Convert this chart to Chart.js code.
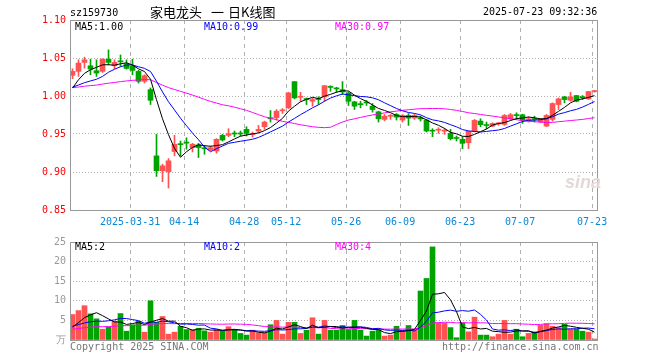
<!DOCTYPE html>
<html>
<head>
<meta charset="utf-8">
<script src="https://cdn.jsdelivr.net/npm/chart.js@4.4.1/dist/chart.umd.min.js"></script>
<style>
  body { margin: 0; background: #fff; }
  #wrap { position: relative; width: 660px; height: 360px; overflow: hidden; font: 10px "DejaVu Sans Mono", monospace; }
  #wrap canvas { position: absolute; left: 0; }
  .t { position: absolute; line-height: 12px; white-space: pre; }
  .cjk { font: 13px "Noto Sans CJK SC"; line-height: 18px; top: 3px; }
</style>
</head>
<body>
<div id="wrap">
  <canvas id="kChart" width="660" height="232" style="top:0"></canvas>
  <canvas id="volChart" width="660" height="128" style="top:232px"></canvas>
  <div class="t" style="left:70px;top:7px">sz159730</div>
  <div class="t cjk" style="left:150px">家电龙头</div>
  <div class="t cjk" style="left:211px">一</div>
  <div class="t cjk" style="left:228px">日K线图</div>
  <div class="t" style="left:483px;top:6px">2025-07-23 09:32:36</div>
  <div class="t" id="lg0" style="left:75px;top:21px;color:#000"></div>
  <div class="t" id="lg1" style="left:204px;top:21px;color:#0000ff"></div>
  <div class="t" id="lg2" style="left:335px;top:21px;color:#ff00ff"></div>
  <div class="t" id="vl0" style="left:75px;top:241px;color:#000"></div>
  <div class="t" id="vl1" style="left:204px;top:241px;color:#0000ff"></div>
  <div class="t" id="vl2" style="left:335px;top:241px;color:#ff00ff"></div>
  <div class="t" style="left:565px;top:171px;font:italic bold 18px 'Liberation Sans';line-height:22px;color:#e4d8d8">sina</div>
  <div class="t" style="left:70px;top:341px;color:#777">Copyright 2025 SINA.COM</div>
  <div class="t" style="left:442px;top:341px;color:#777">http://finance.sina.com.cn</div>
</div>
<script>
// daily candles, 2025-03-17 .. 2025-07-23 (88 trading days)
const opens = [
  1.0272, 1.0324, 1.0442, 1.0398, 1.0333, 1.0324, 1.0485, 1.0398, 1.0455, 1.0424,
  1.0390, 1.0324, 1.0193, 1.0084, 0.9212, 0.9016, 0.9003, 0.9269, 0.9365, 0.9387,
  0.9321, 0.9356, 0.9308, 0.9291, 0.9277, 0.9482, 0.9482, 0.9508, 0.9508, 0.9561,
  0.9491, 0.9539, 0.9596, 0.9704, 0.9713, 0.9805, 0.9844, 1.0189, 0.9984, 0.9957,
  0.9931, 0.9957, 0.9988, 1.0118, 1.0097, 1.0084, 1.0040, 0.9923, 0.9890, 0.9912,
  0.9866, 0.9792, 0.9692, 0.9733, 0.9757, 0.9683, 0.9744, 0.9709, 0.9702, 0.9683,
  0.9541, 0.9550, 0.9537, 0.9508, 0.9445, 0.9430, 0.9386, 0.9535, 0.9670, 0.9615,
  0.9604, 0.9633, 0.9626, 0.9700, 0.9746, 0.9753, 0.9674, 0.9694, 0.9661, 0.9604,
  0.9692, 0.9888, 0.9988, 0.9944, 1.0006, 0.9982, 0.9962, 1.0058,
];
const highs = [
  1.0358, 1.0476, 1.0511, 1.0485, 1.0476, 1.0490, 1.0607, 1.0476, 1.0540, 1.0476,
  1.0485, 1.0337, 1.0280, 1.0106, 0.9495, 0.9103, 0.9177, 0.9482, 0.9408, 0.9450,
  0.9378, 0.9378, 0.9350, 0.9343, 0.9439, 0.9495, 0.9570, 0.9539, 0.9539, 0.9596,
  0.9526, 0.9613, 0.9670, 0.9809, 0.9822, 0.9835, 1.0049, 1.0189, 1.0049, 0.9975,
  0.9975, 0.9990, 1.0136, 1.0136, 1.0115, 1.0189, 1.0053, 0.9931, 0.9931, 0.9941,
  0.9901, 0.9800, 0.9757, 0.9757, 0.9770, 0.9757, 0.9770, 0.9761, 0.9735, 0.9692,
  0.9570, 0.9583, 0.9570, 0.9561, 0.9474, 0.9465, 0.9539, 0.9692, 0.9700, 0.9657,
  0.9648, 0.9652, 0.9757, 0.9770, 0.9779, 0.9761, 0.9726, 0.9735, 0.9700, 0.9757,
  0.9910, 0.9975, 0.9997, 1.0049, 1.0006, 1.0006, 1.0062, 1.0075,
];
const lows = [
  1.0228, 1.0258, 1.0367, 1.0280, 1.0258, 1.0310, 1.0410, 1.0360, 1.0390, 1.0354,
  1.0280, 1.0170, 1.0170, 0.9888, 0.8942, 0.8872, 0.8789, 0.9212, 0.9212, 0.9300,
  0.9264, 0.9190, 0.9234, 0.9280, 0.9247, 0.9408, 0.9465, 0.9465, 0.9474, 0.9474,
  0.9460, 0.9517, 0.9561, 0.9657, 0.9683, 0.9770, 0.9835, 0.9962, 0.9931, 0.9888,
  0.9866, 0.9888, 0.9931, 1.0062, 1.0049, 1.0020, 0.9875, 0.9822, 0.9844, 0.9875,
  0.9788, 0.9657, 0.9674, 0.9692, 0.9683, 0.9657, 0.9613, 0.9692, 0.9670, 0.9526,
  0.9465, 0.9508, 0.9495, 0.9421, 0.9408, 0.9308, 0.9308, 0.9526, 0.9596, 0.9570,
  0.9596, 0.9613, 0.9613, 0.9683, 0.9692, 0.9639, 0.9657, 0.9657, 0.9648, 0.9596,
  0.9670, 0.9822, 0.9910, 0.9931, 0.9923, 0.9953, 0.9953, 1.0049,
];
const closes = [
  1.0324, 1.0433, 1.0476, 1.0354, 1.0302, 1.0485, 1.0442, 1.0442, 1.0450, 1.0363,
  1.0337, 1.0193, 1.0267, 0.9944, 0.9016, 0.9081, 0.9147, 0.9365, 0.9360, 0.9380,
  0.9365, 0.9321, 0.9306, 0.9320, 0.9430, 0.9421, 0.9504, 0.9500, 0.9500, 0.9508,
  0.9499, 0.9561, 0.9657, 0.9700, 0.9800, 0.9813, 1.0040, 0.9975, 0.9993, 0.9953,
  0.9953, 0.9953, 1.0136, 1.0113, 1.0093, 1.0053, 0.9931, 0.9866, 0.9886, 0.9908,
  0.9822, 0.9700, 0.9735, 0.9737, 0.9722, 0.9744, 0.9709, 0.9744, 0.9698, 0.9539,
  0.9537, 0.9554, 0.9541, 0.9439, 0.9441, 0.9378, 0.9535, 0.9679, 0.9622, 0.9611,
  0.9639, 0.9637, 0.9744, 0.9753, 0.9742, 0.9679, 0.9700, 0.9690, 0.9692, 0.9744,
  0.9901, 0.9962, 0.9953, 0.9988, 0.9931, 0.9978, 1.0058, 1.0067,
];
// volume, 万手
const vols = [
  6.5, 7.5, 8.75, 6.67, 5.4, 2.75, 3.3, 4.8, 6.75, 2.25,
  3.9, 4.8, 2.0, 10.0, 4.5, 6.0, 1.5, 2.0, 3.5, 2.67,
  2.67, 3.0, 2.33, 2.0, 2.67, 2.33, 3.4, 2.67, 1.67, 1.25,
  2.5, 1.83, 1.83, 3.9, 5.0, 1.5, 4.5, 4.5, 1.67, 2.5,
  5.67, 1.5, 5.0, 2.5, 2.5, 3.7, 2.67, 5.0, 2.5, 1.0,
  2.25, 2.67, 1.0, 1.25, 3.5, 2.5, 3.7, 2.67, 12.5, 15.7,
  23.75, 4.33, 4.33, 3.17, 0.58, 4.33, 2.08, 5.83, 1.25, 1.25,
  0.83, 1.5, 5.0, 1.5, 2.75, 0.83, 1.67, 2.08, 3.75, 4.17,
  3.5, 3.17, 4.0, 2.75, 2.75, 2.25, 2.0, 0.25,
];
// 29 sessions before the window, only used to warm up the moving averages
const prevCloses = [
  1.018, 1.015, 1.012, 1.010, 1.008, 1.011, 1.014, 1.012, 1.010, 1.010,
  1.006, 1.004, 1.007, 1.010, 1.012, 1.013, 1.011, 1.009, 1.010, 1.011,
  1.015, 1.017, 1.012, 1.009, 1.011, 0.989, 1.005, 1.012, 1.014,
];
const prevVols = [
  2.1, 2.6, 2.3, 1.9, 2.8, 2.4, 2.2, 2.5, 2.0, 2.7,
  2.3, 2.6, 2.1, 2.4, 2.9, 2.2, 2.5, 2.3, 2.4, 2.3,
  3.2, 4.5, 3.8, 3.6, 3.4, 1.8, 2.5, 3.0, 2.7,
];
const tickIdx = [10, 19, 29, 36, 46, 55, 65, 75, 87];
const tickLabels = ["2025-03-31", "04-14", "04-28", "05-12", "05-26", "06-09", "06-23", "07-07", "07-23"];
const priceLegend = ["MA5:1.00", "MA10:0.99", "MA30:0.97"];
const volLegend = ["MA5:2", "MA10:2", "MA30:4"];

const RED = "#ff5252";
const GREEN = "#00a300";
const MA_COLORS = ["#000000", "#0000ff", "#ff00ff"];
const X_MIN = -0.4167;
const X_MAX = 87.4167;

Chart.defaults.font.family = '"DejaVu Sans Mono", monospace';
Chart.defaults.font.size = 10;

priceLegend.forEach((t, i) => { document.getElementById("lg" + i).textContent = t; });
volLegend.forEach((t, i) => { document.getElementById("vl" + i).textContent = t; });

function movingAvg(values, prev, n) {
  const all = prev.concat(values);
  return values.map((_, i) => {
    let sum = 0;
    for (let k = prev.length + i - n + 1; k <= prev.length + i; k++) sum += all[k];
    return sum / n;
  });
}

const idx = closes.map((_, i) => i);
const barColors = idx.map((i) => (closes[i] >= opens[i] ? RED : GREEN));

function maLines(values, prev) {
  return [5, 10, 30].map((n, k) => ({
    type: "line",
    data: movingAvg(values, prev, n).map((v, i) => ({ x: i, y: v })),
    borderColor: MA_COLORS[k],
    borderWidth: 1,
    pointRadius: 0,
    tension: 0,
    order: 0,
  }));
}

// grey box round the plot area
const frame = {
  id: "frame",
  afterDraw(chart) {
    const { ctx, chartArea: a } = chart;
    ctx.save();
    ctx.strokeStyle = "#999";
    ctx.lineWidth = 1;
    ctx.strokeRect(a.left + 0.5, a.top + 0.5, a.right - a.left, a.bottom - a.top);
    ctx.restore();
  },
};

function xScale(showLabels) {
  return {
    type: "linear",
    min: X_MIN,
    max: X_MAX,
    offset: false,
    afterBuildTicks: (s) => { s.ticks = tickIdx.map((i) => ({ value: i - 0.4 })); },
    afterFit: (s) => { s.height = showLabels ? 22 : 20; },
    grid: { color: "#b0b0b0", drawTicks: false, offset: false },
    border: { display: false, dash: [4, 4] },
    ticks: {
      display: showLabels,
      autoSkip: false,
      maxRotation: 0,
      padding: 6,
      color: "#0a88d8",
      callback: (v, i) => tickLabels[i],
    },
  };
}

const innerGrid = (c) => (c.index === 0 || c.index === 5 ? "rgba(0,0,0,0)" : "#b0b0b0");

const baseOptions = {
  responsive: false,
  animation: false,
  devicePixelRatio: 1,
  plugins: { legend: { display: false }, tooltip: { enabled: false } },
};

new Chart(document.getElementById("kChart"), {
  type: "bar",
  data: {
    datasets: [
      ...maLines(closes, prevCloses),
      {
        data: idx.map((i) => ({ x: i, y: [lows[i], highs[i]] })),
        backgroundColor: barColors,
        barThickness: 1,
        grouped: false,
        order: 2,
      },
      {
        data: idx.map((i) => ({ x: i, y: [opens[i], closes[i]] })),
        backgroundColor: barColors,
        barThickness: 5,
        minBarLength: 1,
        grouped: false,
        order: 1,
      },
    ],
  },
  options: {
    ...baseOptions,
    layout: { padding: { top: 20, right: 63, left: 0, bottom: 0 } },
    scales: {
      x: xScale(true),
      y: {
        min: 0.85,
        max: 1.1,
        afterFit: (s) => { s.width = 70; },
        grid: { color: innerGrid, drawTicks: false },
        border: { display: false, dash: [1, 2] },
        ticks: { stepSize: 0.05, padding: 4, color: "#ff0000", callback: (v) => v.toFixed(2) },
      },
    },
  },
  plugins: [frame],
});

new Chart(document.getElementById("volChart"), {
  type: "bar",
  data: {
    datasets: [
      ...maLines(vols, prevVols),
      {
        data: idx.map((i) => ({ x: i, y: vols[i] })),
        backgroundColor: barColors,
        barThickness: 5,
        grouped: false,
        order: 1,
      },
    ],
  },
  options: {
    ...baseOptions,
    layout: { padding: { top: 8, right: 63, left: 0, bottom: 0 } },
    scales: {
      x: xScale(false),
      y: {
        min: 0,
        max: 25,
        afterFit: (s) => { s.width = 70; },
        grid: { color: innerGrid, drawTicks: false },
        border: { display: false, dash: [1, 2] },
        ticks: { stepSize: 5, padding: 4, color: "#999", callback: (v) => (v === 0 ? "万" : v) },
      },
    },
  },
  plugins: [frame],
});
</script>
</body>
</html>
